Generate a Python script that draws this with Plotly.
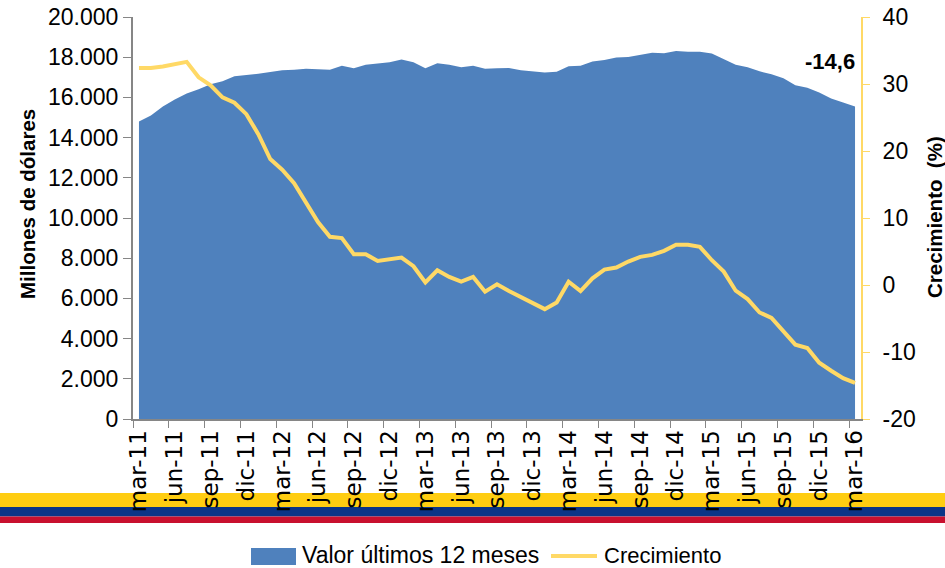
import plotly.graph_objects as go

months = ["mar-11","jun-11","sep-11","dic-11","mar-12","jun-12","sep-12","dic-12","mar-13","jun-13","sep-13","dic-13","mar-14","jun-14","sep-14","dic-14","mar-15","jun-15","sep-15","dic-15","mar-16"]
valor = [14800,15100,15550,15900,16200,16400,16650,16800,17050,17100,17180,17260,17350,17370,17420,17400,17380,17570,17450,17620,17680,17750,17880,17750,17450,17700,17620,17500,17580,17430,17450,17460,17350,17280,17240,17280,17550,17580,17780,17860,17980,18010,18130,18220,18200,18310,18270,18270,18180,17900,17620,17500,17300,17150,16950,16600,16480,16250,15950,15750,15550]
crecimiento = [32.4,32.4,32.6,33.0,33.3,31.0,29.8,28.0,27.2,25.5,22.5,18.8,17.2,15.2,12.2,9.4,7.2,7.0,4.6,4.6,3.6,3.9,4.1,2.8,0.4,2.2,1.2,0.5,1.2,-1.0,0.1,-0.9,-1.8,-2.7,-3.6,-2.6,0.5,-0.9,1.0,2.3,2.6,3.5,4.2,4.5,5.1,6.0,6.0,5.7,3.7,2.0,-0.85,-2.1,-4.1,-4.9,-6.8,-8.9,-9.4,-11.6,-12.8,-13.9,-14.6]
y_ticks = [0,2000,4000,6000,8000,10000,12000,14000,16000,18000,20000]
y_labels = ["0","2.000","4.000","6.000","8.000","10.000","12.000","14.000","16.000","18.000","20.000"]
y2_ticks = [-20,-10,0,10,20,30,40]
y2_labels = ["-20","-10","0","10","20","30","40"]
x = list(range(len(valor)))
tick_pos = x[::3]
edge_pos = [p - 0.5 for p in tick_pos]

W, H = 945, 568
L, R, T, B = 133, 861, 17, 419
FONT = "Liberation Sans"
BLUE = "#4F81BD"; YEL = "#FFD966"; GRAY = "#868686"

def px(v): return (v - L) / (R - L)
def py(v): return (B - v) / (B - T)

fig = go.Figure()
fig.add_trace(go.Scatter(x=x, y=valor, name="Valor últimos 12 meses", mode="lines", fill="tozeroy",
                         fillcolor=BLUE, line=dict(color=BLUE, width=0), showlegend=False))
fig.add_trace(go.Scatter(x=x, y=crecimiento, name="Crecimiento", mode="lines", yaxis="y2",
                         line=dict(color=YEL, width=4), showlegend=False))

shapes = []
for y0, y1, c in [(493, 507, "#FFCD11"), (507, 516.5, "#0B3587"), (516.5, 523, "#C8102E")]:
    shapes.append(dict(type="rect", xref="paper", yref="paper", x0=px(0), x1=px(W), y0=py(y1), y1=py(y0),
                       fillcolor=c, line_width=0, layer="below"))
shapes.append(dict(type="rect", xref="paper", yref="paper", x0=px(251), x1=px(296), y0=py(565), y1=py(548),
                   fillcolor=BLUE, line_width=0))
shapes.append(dict(type="line", xref="paper", yref="paper", x0=px(551), x1=px(597), y0=py(556), y1=py(556),
                   line=dict(color=YEL, width=4)))

ann = [
    dict(x=60, y=33.4, xref="x", yref="y2", text="<b>-14,6</b>", showarrow=False, xanchor="right", xshift=2,
         font=dict(family=FONT, size=22, color="black")),
    dict(x=px(300), y=py(555), xref="paper", yref="paper", text="Valor últimos 12 meses", showarrow=False,
         xanchor="left", yanchor="middle", font=dict(family=FONT, size=23, color="black")),
    dict(x=px(602), y=py(555), xref="paper", yref="paper", text="Crecimiento", showarrow=False,
         xanchor="left", yanchor="middle", font=dict(family=FONT, size=22, color="black")),
    dict(x=px(27), y=py(204), xref="paper", yref="paper", text="<b>Millones de dólares</b>", showarrow=False,
         textangle=-90, xanchor="center", yanchor="middle", font=dict(family=FONT, size=20.5, color="black")),
    dict(x=px(935), y=py(217), xref="paper", yref="paper", text="<b>Crecimiento  (%)</b>", showarrow=False,
         textangle=-90, xanchor="center", yanchor="middle", font=dict(family=FONT, size=20.5, color="black")),
]

fig.update_layout(
    width=W, height=H, autosize=False, paper_bgcolor="white", plot_bgcolor="white",
    margin=dict(l=L, r=W-R, t=T, b=H-B, autoexpand=False), showlegend=False, shapes=shapes, annotations=ann,
    font=dict(family=FONT, color="black"),
    xaxis=dict(range=[-0.5, 60.5], tickvals=tick_pos, ticktext=months, tickangle=-90, ticks="",
               automargin=False, tickfont=dict(family="DejaVu Sans", size=23), showgrid=False, zeroline=False,
               showline=True, linecolor=GRAY, linewidth=2,
               minor=dict(tickvals=edge_pos, ticks="outside", ticklen=7, tickcolor=GRAY, tickwidth=1, showgrid=False)),
    yaxis=dict(range=[0, 20000], tickvals=y_ticks, ticktext=y_labels, ticks="outside", ticklen=8, automargin=False,
               tickcolor=GRAY, showgrid=False, zeroline=False, showline=True, linecolor=GRAY, linewidth=2,
               tickfont=dict(size=23)),
    yaxis2=dict(range=[-20, 40], tickvals=y2_ticks, ticktext=y2_labels, overlaying="y", side="right", ticks="outside",
                ticklen=7, automargin=False, ticklabelstandoff=8,
                tickcolor=YEL, showgrid=False, zeroline=False, showline=True, linecolor=YEL, linewidth=2,
                tickfont=dict(size=23)),
)
fig.write_html("out.html", config={"displayModeBar": False},
               post_script="document.body.style.margin='0';document.body.style.overflow='hidden';")
